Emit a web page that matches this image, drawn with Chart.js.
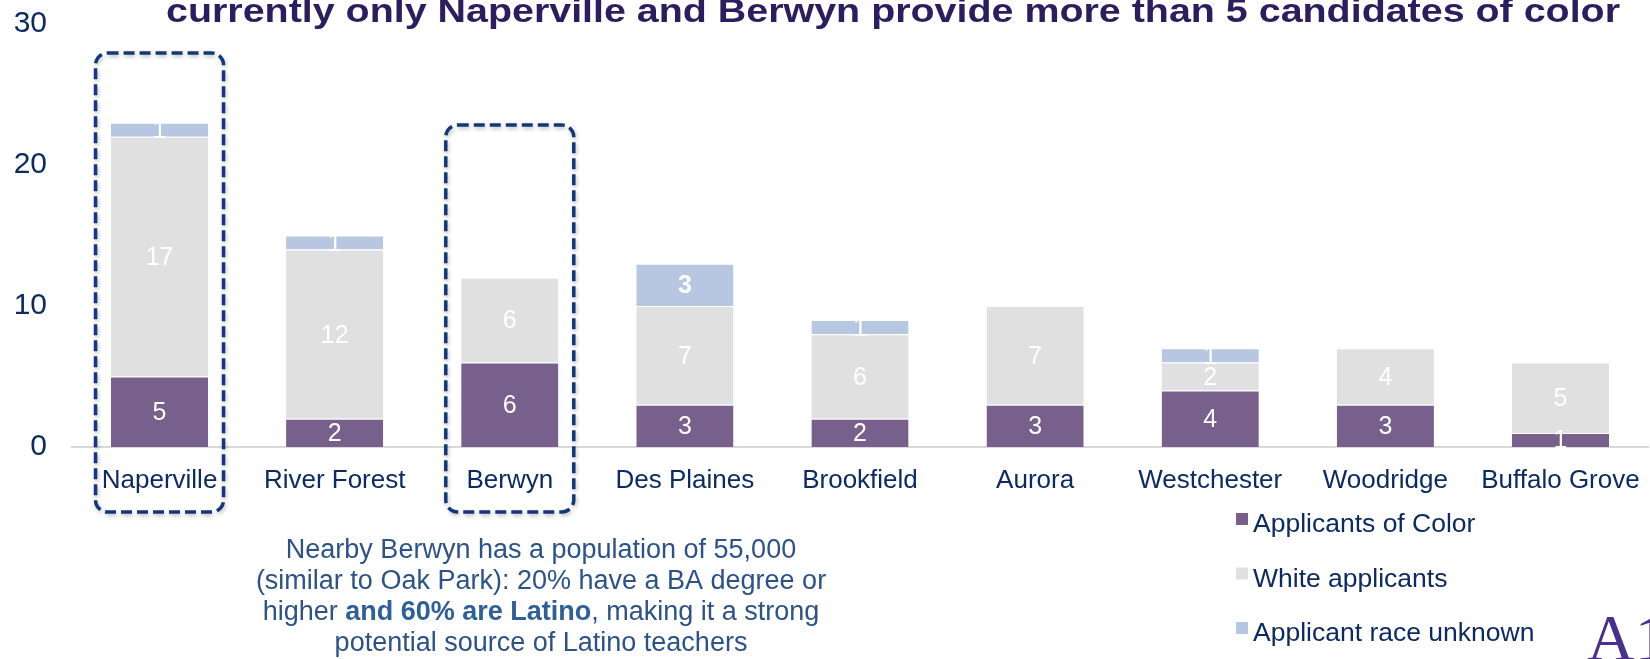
<!DOCTYPE html>
<html>
<head>
<meta charset="utf-8">
<script src="https://cdn.jsdelivr.net/npm/chart.js@4.4.0/dist/chart.umd.min.js"></script>
<style>
  html, body { margin: 0; padding: 0; background: #fff; }
  #wrap { position: relative; width: 1650px; height: 659px; overflow: hidden; }
</style>
</head>
<body>
<div id="wrap"><canvas id="chart" width="1650" height="659"></canvas></div>
<script>
// ---------- data ----------
const categories = ['Naperville', 'River Forest', 'Berwyn', 'Des Plaines', 'Brookfield', 'Aurora', 'Westchester', 'Woodridge', 'Buffalo Grove'];
const applicantsOfColor = [5, 2, 6, 3, 2, 3, 4, 3, 1];
const whiteApplicants = [17, 12, 6, 7, 6, 7, 2, 4, 5];
const raceUnknown = [1, 1, null, 3, 1, null, 1, null, null];
const yTicks = [0, 10, 20, 30];
const seriesNames = ['Applicants of Color', 'White applicants', 'Applicant race unknown'];
const highlighted = ['Naperville', 'Berwyn'];

const titleText = 'currently only Naperville and Berwyn provide more than 5 candidates of color';
const noteLines = [
    [['Nearby Berwyn has a population of 55,000', false]],
    [['(similar to Oak Park): 20% have a BA degree or', false]],
    [['higher ', false], ['and 60% are Latino', true], [', making it a strong', false]],
    [['potential source of Latino teachers', false]]
];

// ---------- styles ----------
const FONT = '"Liberation Sans", Arial, Helvetica, sans-serif';
const NAVY = '#0c2b62';
const COLORS = ['#77608c', '#e0e0e0', '#b8c7e1'];

// white value labels inside each segment
const segmentLabels = {
    id: 'segmentLabels',
    afterDatasetsDraw(chart) {
        const ctx = chart.ctx;
        ctx.save();
        ctx.fillStyle = '#fff';
        ctx.textAlign = 'center';
        ctx.textBaseline = 'middle';
        chart.data.datasets.forEach((ds, di) => {
            const meta = chart.getDatasetMeta(di);
            meta.data.forEach((bar, i) => {
                const v = ds.data[i];
                if (v === null || v === undefined) return;
                const bold = (di === 2 && v >= 3);
                ctx.font = (bold ? 'bold ' : '') + '25px ' + FONT;
                ctx.fillText(String(v), bar.x, (bar.y + bar.base) / 2 + 1.5);
            });
        });
        ctx.restore();
    }
};

// dashed rounded boxes around highlighted cities
const highlightBoxes = {
    id: 'highlightBoxes',
    afterDraw(chart) {
        const ctx = chart.ctx;
        const xs = chart.scales.x;
        const tops = { 'Naperville': 53, 'Berwyn': 125 };
        ctx.save();
        highlighted.forEach(name => {
            const i = categories.indexOf(name);
            const cx = xs.getPixelForValue(i);
            const w = 128, top = tops[name], bottom = 512;
            ctx.shadowColor = 'rgba(0,0,0,0.28)';
            ctx.shadowBlur = 4;
            ctx.shadowOffsetX = 1;
            ctx.shadowOffsetY = 2;
            ctx.strokeStyle = '#143779';
            ctx.lineWidth = 3.5;
            ctx.setLineDash([11, 5]);
            ctx.beginPath();
            ctx.roundRect(cx - w / 2, top, w, bottom - top, 12);
            ctx.stroke();
        });
        ctx.restore();
    }
};

// title, note, legend and logo
const extras = {
    id: 'extras',
    afterDraw(chart) {
        const ctx = chart.ctx;
        ctx.save();
        // title (top is cut off in the source), stretched to the source width
        ctx.fillStyle = '#2c1d5f';
        ctx.font = 'bold 33px ' + FONT;
        ctx.textAlign = 'center';
        ctx.textBaseline = 'alphabetic';
        const tw = ctx.measureText(titleText).width;
        ctx.save();
        ctx.translate(893, 22);
        ctx.scale(1454 / tw, 1);
        ctx.fillText(titleText, 0, 0);
        ctx.restore();

        // note under Berwyn
        ctx.textAlign = 'left';
        ctx.textBaseline = 'middle';
        const noteX = 541;
        noteLines.forEach((parts, li) => {
            let total = 0;
            parts.forEach(([t, b]) => {
                ctx.font = (b ? 'bold ' : '') + '27px ' + FONT;
                total += ctx.measureText(t).width;
            });
            let x = noteX - total / 2;
            const y = 551 + li * 30.7;
            parts.forEach(([t, b]) => {
                ctx.font = (b ? 'bold ' : '') + '27px ' + FONT;
                ctx.fillStyle = b ? '#2e5f98' : '#2c5288';
                ctx.fillText(t, x, y);
                x += ctx.measureText(t).width;
            });
        });

        // legend
        chart.data.datasets.forEach((ds, di) => {
            const y = 525 + di * 54.5;
            ctx.fillStyle = ds.backgroundColor;
            ctx.fillRect(1236, y - 12, 12, 12);
            ctx.fillStyle = NAVY;
            ctx.font = '26.5px ' + FONT;
            ctx.fillText(ds.label, 1253, y);
        });

        // logo
        ctx.fillStyle = '#4a2f8c';
        ctx.font = '66px "Liberation Serif", "DejaVu Serif", serif';
        ctx.textBaseline = 'alphabetic';
        ctx.fillText('A1', 1587, 660);
        ctx.restore();
    }
};

const datasets = [applicantsOfColor, whiteApplicants, raceUnknown].map((vals, i) => ({
    label: seriesNames[i],
    data: vals,
    backgroundColor: COLORS[i],
    borderColor: '#ffffff',
    borderWidth: { top: 1, bottom: 0, left: 0, right: 0 },
    borderSkipped: false,
    barPercentage: 0.555,
    categoryPercentage: 1.0
}));

new Chart(document.getElementById('chart'), {
    type: 'bar',
    data: { labels: categories, datasets: datasets },
    options: {
        responsive: false,
        animation: false,
        layout: { padding: { top: 24, right: 2, left: 0, bottom: 0 } },
        plugins: {
            legend: { display: false },
            title: { display: false },
            tooltip: { enabled: false }
        },
        scales: {
            x: {
                stacked: true,
                grid: { display: false, drawTicks: false },
                border: { display: true, color: '#d9d9d9', width: 2 },
                ticks: { color: NAVY, font: { size: 26, family: FONT }, padding: 18, maxRotation: 0, autoSkip: false },
                afterFit(scale) {
                    scale.height = 212;
                    scale.paddingLeft = 0;
                    scale.paddingRight = 0;
                }
            },
            y: {
                stacked: true,
                min: 0,
                max: 30,
                afterBuildTicks(scale) { scale.ticks = yTicks.map(v => ({ value: v })); },
                grid: { display: false, drawTicks: false },
                border: { display: false },
                ticks: { color: NAVY, font: { size: 30, family: FONT }, padding: 25 },
                afterFit(scale) {
                    scale.width = 72;
                    scale.paddingTop = 0;
                    scale.paddingBottom = 0;
                }
            }
        }
    },
    plugins: [segmentLabels, highlightBoxes, extras]
});
</script>
</body>
</html>
